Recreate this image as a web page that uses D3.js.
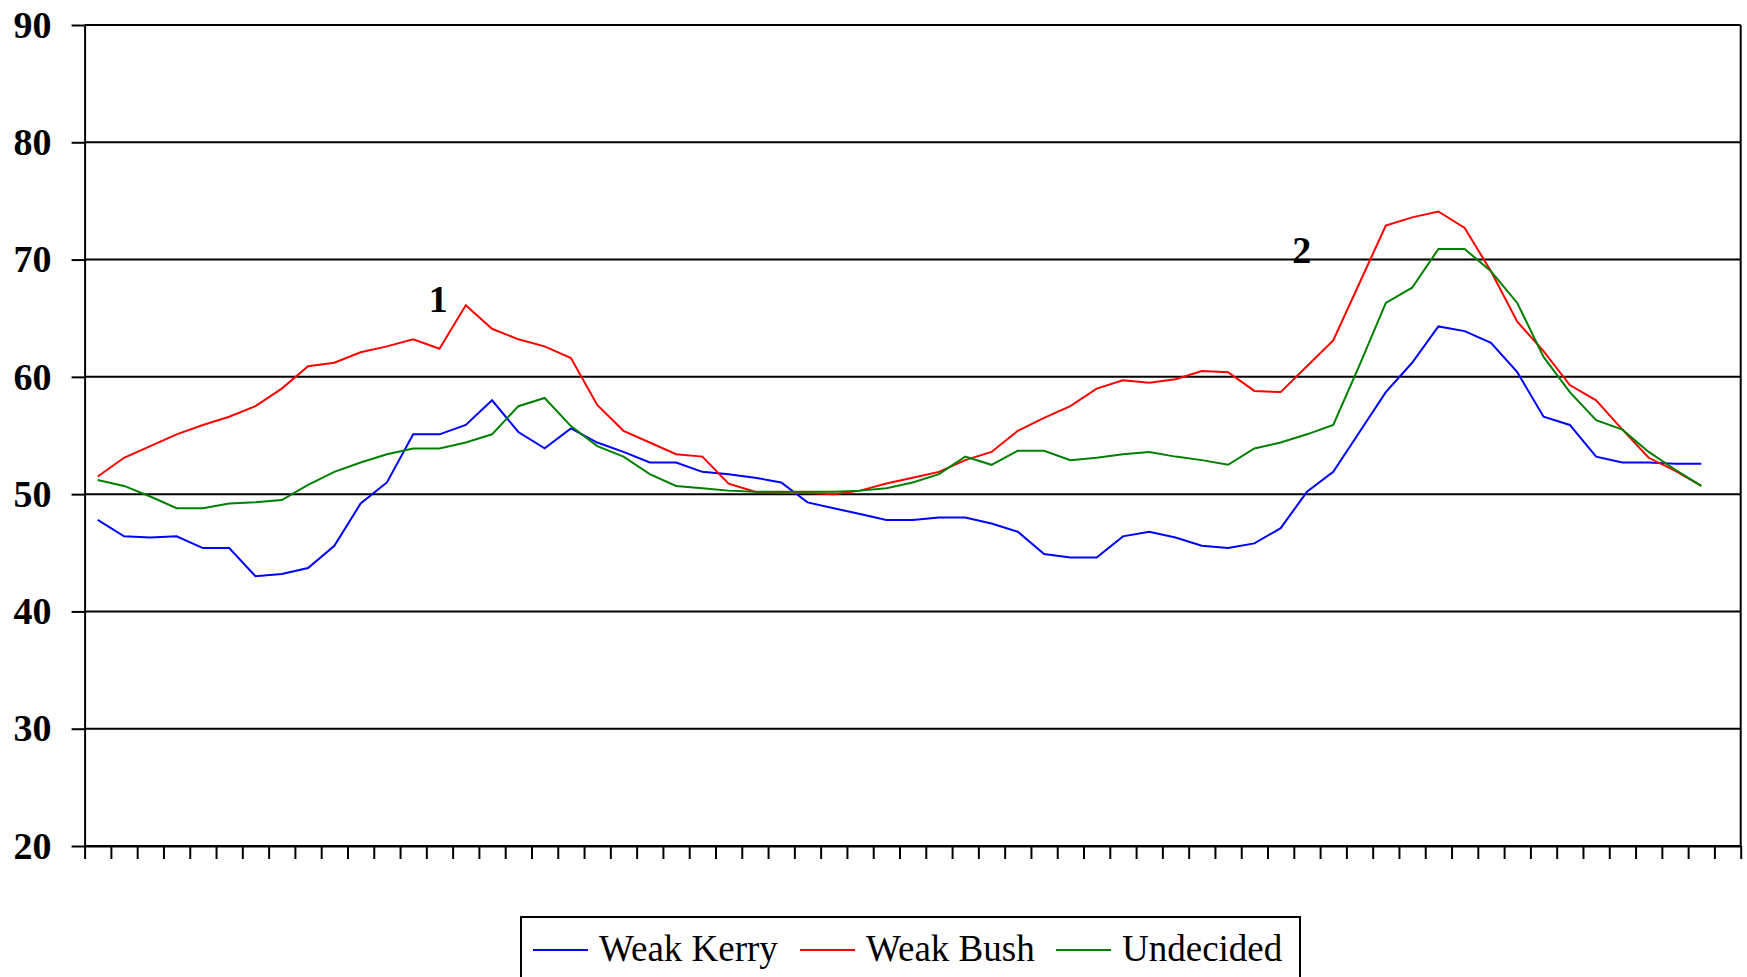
<!DOCTYPE html>
<html>
<head>
<meta charset="utf-8">
<script src="https://cdn.jsdelivr.net/npm/d3@7"></script>
<style>
  html, body { margin: 0; padding: 0; background: #fff; }
  svg { display: block; }
</style>
</head>
<body>
<div id="chart"></div>
<script>
// canvas size
const width = 1747;
const height = 977;

const fontFamily = "'Liberation Serif', 'Times New Roman', serif";

// 63 unlabeled category slots on the x axis, the last one is empty
const categoryCount = 63;

const yTicks = [20, 30, 40, 50, 60, 70, 80, 90];

// series values
const weakKerry = [
  47.8, 46.4, 46.3, 46.4, 45.4, 45.4, 43.0, 43.2, 43.7, 45.6,
  49.2, 51.0, 55.1, 55.1, 55.9, 58.0, 55.3, 53.9, 55.6, 54.4,
  53.6, 52.7, 52.7, 51.9, 51.7, 51.4, 51.0, 49.3, 48.8, 48.3,
  47.8, 47.8, 48.0, 48.0, 47.5, 46.8, 44.9, 44.6, 44.6, 46.4,
  46.8, 46.3, 45.6, 45.4, 45.8, 47.1, 50.2, 51.9, 55.3, 58.7,
  61.2, 64.3, 63.9, 62.9, 60.4, 56.6, 55.9, 53.2, 52.7, 52.7,
  52.6, 52.6
];

const weakBush = [
  51.5, 53.1, 54.1, 55.1, 55.9, 56.6, 57.5, 59.0, 60.9, 61.2,
  62.1, 62.6, 63.2, 62.4, 66.1, 64.1, 63.2, 62.6, 61.6, 57.6,
  55.4, 54.4, 53.4, 53.2, 50.9, 50.2, 50.1, 50.1, 50.0, 50.3,
  50.9, 51.4, 51.9, 52.9, 53.6, 55.4, 56.5, 57.5, 59.0, 59.7,
  59.5, 59.8, 60.5, 60.4, 58.8, 58.7, 60.9, 63.1, 68.0, 72.9,
  73.6, 74.1, 72.7, 69.0, 64.7, 62.2, 59.3, 58.0, 55.5, 53.1,
  52.0, 50.7
];

const undecided = [
  51.2, 50.7, 49.8, 48.8, 48.8, 49.2, 49.3, 49.5, 50.8, 51.9,
  52.7, 53.4, 53.9, 53.9, 54.4, 55.1, 57.5, 58.2, 55.8, 54.1,
  53.2, 51.7, 50.7, 50.5, 50.3, 50.2, 50.2, 50.2, 50.2, 50.3,
  50.5, 51.0, 51.7, 53.2, 52.5, 53.7, 53.7, 52.9, 53.1, 53.4,
  53.6, 53.2, 52.9, 52.5, 53.9, 54.4, 55.1, 55.9, 61.0, 66.3,
  67.6, 70.9, 70.9, 69.0, 66.3, 61.7, 58.7, 56.3, 55.5, 53.6,
  52.1, 50.7
];

const seriesNames = ["Weak Kerry", "Weak Bush", "Undecided"];
const seriesColors = ["#0000ff", "#ff0000", "#008000"];
const seriesValues = [weakKerry, weakBush, undecided];

// numbered notes placed on the chart: [category position, value, label]
const notes = [
  [13.45, 65.5, "1"],
  [46.3, 69.7, "2"]
];

// Plot area
const plot = { left: 84.6, right: 1740.7, top: 25, bottom: 846 };

const x = d3.scaleLinear()
  .domain([0, categoryCount])
  .range([plot.left, plot.right]);

const y = d3.scaleLinear()
  .domain([20, 90])
  .range([plot.bottom, plot.top]);

const svg = d3.select("#chart")
  .append("svg")
  .attr("width", width)
  .attr("height", height);

// Horizontal gridlines
svg.append("g")
  .attr("class", "grid")
  .selectAll("line")
  .data(yTicks)
  .enter()
  .append("line")
  .attr("x1", plot.left)
  .attr("x2", plot.right)
  .attr("y1", d => y(d))
  .attr("y2", d => y(d))
  .attr("stroke", "#000")
  .attr("stroke-width", 2);

// Right border of the plot area
svg.append("line")
  .attr("x1", plot.right)
  .attr("x2", plot.right)
  .attr("y1", plot.top)
  .attr("y2", plot.bottom)
  .attr("stroke", "#000")
  .attr("stroke-width", 2);

// Y axis
const yAxis = svg.append("g")
  .attr("transform", `translate(${plot.left},0)`)
  .call(d3.axisLeft(y).tickValues(yTicks).tickSize(13).tickPadding(20).tickSizeOuter(0));

yAxis.select(".domain").attr("stroke", "#000").attr("stroke-width", 2);
yAxis.selectAll(".tick line").attr("stroke", "#000").attr("stroke-width", 2);
yAxis.selectAll(".tick text")
  .attr("fill", "#000")
  .attr("font-family", fontFamily)
  .attr("font-weight", "bold")
  .attr("font-size", "38px");

// X axis, ticks only, no labels
const xAxis = svg.append("g")
  .attr("transform", `translate(0,${plot.bottom})`)
  .call(d3.axisBottom(x)
    .tickValues(d3.range(0, categoryCount + 1))
    .tickFormat("")
    .tickSize(13)
    .tickSizeOuter(0));

xAxis.select(".domain").attr("stroke", "#000").attr("stroke-width", 2);
xAxis.selectAll(".tick line").attr("stroke", "#000").attr("stroke-width", 2);

// Lines
const line = d3.line()
  .x((d, i) => x(i + 0.5))
  .y(d => y(d));

svg.append("g")
  .attr("class", "lines")
  .selectAll("path")
  .data(seriesValues)
  .enter()
  .append("path")
  .attr("d", d => line(d))
  .attr("fill", "none")
  .attr("stroke", (d, i) => seriesColors[i])
  .attr("stroke-width", 2)
  .attr("stroke-linejoin", "miter");

// Numbered notes
svg.append("g")
  .selectAll("text")
  .data(notes)
  .enter()
  .append("text")
  .attr("x", d => x(d[0]))
  .attr("y", d => y(d[1]))
  .attr("text-anchor", "middle")
  .attr("font-family", fontFamily)
  .attr("font-weight", "bold")
  .attr("font-size", "38px")
  .attr("fill", "#000")
  .text(d => d[2]);

// Legend
const legend = svg.append("g").attr("class", "legend");

legend.append("rect")
  .attr("x", 521)
  .attr("y", 917)
  .attr("width", 779)
  .attr("height", 90)
  .attr("fill", "#fff")
  .attr("stroke", "#000")
  .attr("stroke-width", 2);

const legendX = [533, 800, 1056];

const item = legend.selectAll("g.item")
  .data(seriesNames)
  .enter()
  .append("g")
  .attr("class", "item")
  .attr("transform", (d, i) => `translate(${legendX[i]},950)`);

item.append("line")
  .attr("x1", 0)
  .attr("x2", 55)
  .attr("y1", 0)
  .attr("y2", 0)
  .attr("stroke", (d, i) => seriesColors[i])
  .attr("stroke-width", 2);

item.append("text")
  .attr("x", 66)
  .attr("y", 11)
  .attr("font-family", fontFamily)
  .attr("font-size", "37px")
  .attr("fill", "#000")
  .text(d => d);
</script>
</body>
</html>
